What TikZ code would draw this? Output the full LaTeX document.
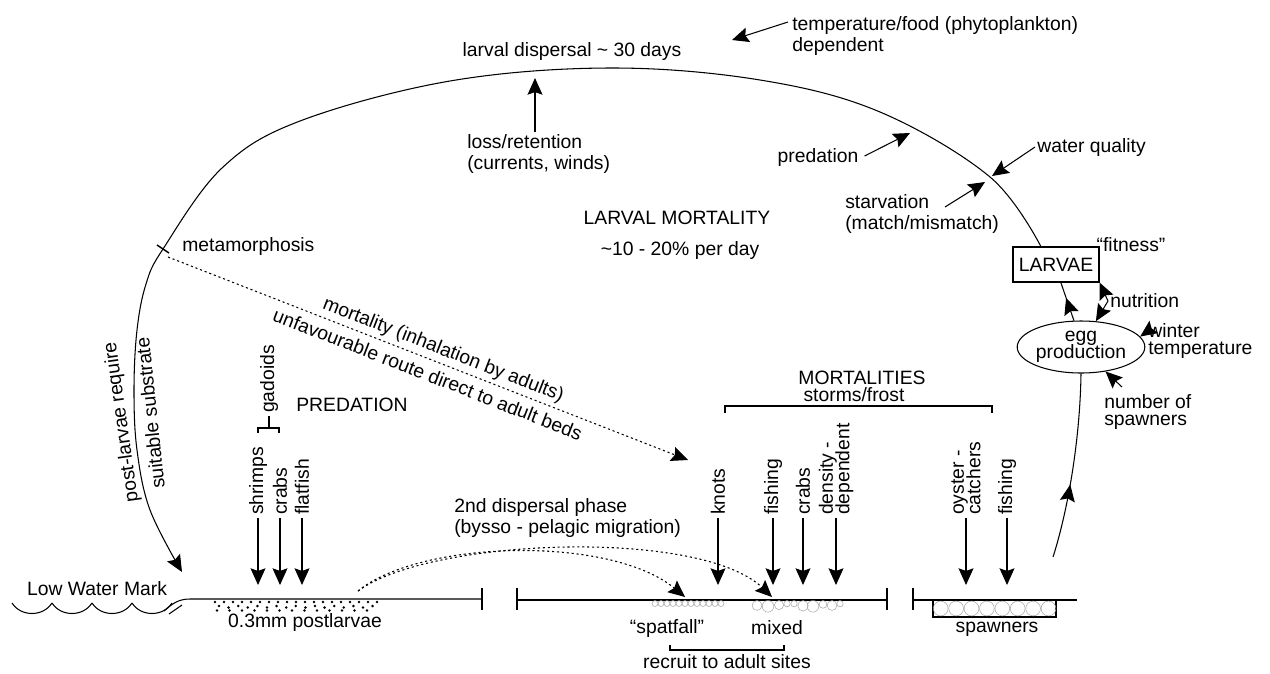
\documentclass[tikz,border=0pt]{standalone}
\usepackage{fontspec}
\setmainfont{Liberation Sans}
\usetikzlibrary{arrows.meta,shapes.geometric,decorations.markings}

\begin{document}
\lineskiplimit=-20pt
\begin{tikzpicture}[x=0.02cm,y=-0.02cm,line width=0.6pt,
    every node/.style={font=\fontsize{11}{12.5}\selectfont,inner sep=1pt},
    tight/.style={font=\fontsize{11}{9.4}\selectfont},
    arr/.style={-{Stealth[length=9.5pt,width=8.5pt,inset=1.5pt]}},
    midarr/.style={postaction={decorate},decoration={markings,mark=at position #1 with {\arrow{Stealth[length=9.5pt,width=8.5pt,inset=1.5pt]}}}},
    dotline/.style={dash pattern=on 1.2pt off 1.6pt},
    vlabel/.style={rotate=90,anchor=west,align=left,inner sep=1.5pt,tight},
    bar/.style={line width=1.3pt},
    shell/.style={draw=black!35,line width=0.3pt}]
\fill[white] (0,0) rectangle (1270,673);
\useasboundingbox (0,0) rectangle (1270,673);

% larval cycle
\node[draw,minimum width=1.72cm,minimum height=0.7cm,inner sep=0pt] (larvae) at (1056,264.5) {LARVAE};
\node (fitness) at (1131,245) {“fitness”};
\node[draw,ellipse,tight,align=center,minimum width=2.16cm,minimum height=1.04cm,inner sep=0pt] (egg) at (1081,347) {egg\\production};
\coordinate (meta) at (163,249);
\coordinate (land) at (182,572);
\draw[arr] plot[smooth,tension=0.6] coordinates {(larvae.130) (990,177) (880,112) (760,80) (610,68) (450,81) (300,121) (222,168) (meta) (146,284) (137,330) (134,390) (137,450) (150,510) (land)};
\draw[line width=0.8pt] (157,245) -- (169,253);
\draw[midarr=.6] (egg.105) -- (larvae.-75);
\coordinate (spawnup) at (1053,557);
\draw[midarr=.4] (spawnup) .. controls (1068,510) and (1080,440) .. (egg.south);

% factors on the larval phase
\node[anchor=west,align=left] (temp) at (790,36) {temperature/food (phytoplankton)\\dependent};
\coordinate (temptail) at (788,22);
\coordinate (temptip) at (732,40);
\draw[arr] (temptail) -- (temptip);
\node (disp) at (572,52) {larval dispersal \textasciitilde{} 30 days};
\node[anchor=west,align=left] (loss) at (465,154) {loss/retention\\(currents, winds)};
\coordinate (losstip) at (535,78);
\draw[arr] (loss.north -| losstip) -- (losstip);
\node (pred) at (818,157) {predation};
\coordinate (predtip) at (910,133);
\draw[arr] (pred.east) ++(4,-1) -- (predtip);
\node[anchor=west] (water) at (1035,147) {water quality};
\coordinate (watertip) at (992,176);
\draw[arr] (water.west) -- (watertip);
\node[anchor=west,align=left] (starv) at (843,214) {starvation\\(match/mismatch)};
\coordinate (starvtail) at (945,207);
\coordinate (starvtip) at (985,182);
\draw[arr] (starvtail) -- (starvtip);
\node (lmort) at (677,218) {LARVAL MORTALITY};
\node (perday) at (680,250) {\textasciitilde 10 - 20\% per day};
\node[anchor=west] (metatext) at (180,246) {metamorphosis};

% factors on egg production
\node[anchor=west] (nutr) at (1108,301) {nutrition};
\draw[arr] (nutr.west) -- (larvae.south east);
\draw[arr] (nutr.west) -- (egg.60);
\node[anchor=west,align=left,tight] (winter) at (1146,341) {winter\\temperature};
\coordinate (wintertail) at (1148,331);
\draw[arr] (wintertail) -- (egg.10);
\node[anchor=west,align=left,tight] (number) at (1102,412) {number of\\spawners};
\coordinate (numbertail) at (1122,387);
\draw[arr] (numbertail) -- (egg.-45);

% route to adult beds
\coordinate (metastart) at (168,257);
\coordinate (knotsin) at (688,460);
\draw[dotline,arr] (metastart) -- (knotsin)
  node[pos=.52,sloped,above=1pt] {mortality (inhalation by adults)}
  node[pos=.51,sloped,below=3pt] {unfavourable route direct to adult beds};

% shore line
\foreach \w in {12,52,92,132} \draw (\w,603) .. controls (\w+9,617) and (\w+31,617) .. (\w+40,603);
\draw (164,611) .. controls (172,604) and (178,599) .. (190,599) -- (482,599);
\draw (169,614) -- (182,605);
\draw[bar] (482,588) -- (482,610);
\draw[bar] (517,588) -- (517,610);
\draw (517,600) -- (887,600);
\draw[bar] (887,588) -- (887,610);
\draw[bar] (913,588) -- (913,610);
\draw (913,600) -- (1077,600);
\draw (933,600) rectangle (1056,617);
\node (lwm) at (97,589) {Low Water Mark};

% postlarvae, spat and spawners
\foreach \i in {0,...,18} \fill ({215+9*\i},602) circle (0.8pt);
\foreach \i in {0,...,16} \fill ({219+9.6*\i},{606+mod(\i,2)*1.5}) circle (0.8pt);
\foreach \i in {0,...,12} \fill ({217+12.5*\i},610.5) circle (0.8pt);
\foreach \x in {655,661,...,721} \draw[shell] (\x,603.5) circle (1.7pt);
\foreach \x/\r in {757/2.8,768/3.3,779/2.6,787/1.8,794/1.8,803/3,813/3.3,823/2.2,832/2.8,840/1.8}
    \draw[shell] (\x,{600.5+\r/0.567}) circle (\r pt);
\foreach \i in {0,...,7} \draw[shell] ({940.7+15.4*\i},608.5) circle (4.2pt);
\node (postl) at (305,622) {0.3mm postlarvae};
\node (spat) at (667,628) {“spatfall”};
\node (mixed) at (777,628) {mixed};
\draw (670,645) -- (670,650) -- (784,650) -- (784,645);
\node (recruit) at (727,662) {recruit to adult sites};
\node (spawn) at (997,629) {spawners};

% second dispersal
\coordinate (seedstart) at (358,591);
\coordinate (spattip) at (685,597);
\coordinate (mixedtip) at (772,597);
\node[anchor=west,align=left] (second) at (452,518) {2nd dispersal phase\\(bysso - pelagic migration)};
\draw[dotline,arr] (seedstart) .. controls (420,540) and (610,535) .. (spattip);
\draw[dotline,arr] (seedstart) .. controls (430,538) and (700,528) .. (mixedtip);

% predators
\node[rotate=98] (postreq) at (122,422) {post-larvae require};
\node[rotate=96] (suitable) at (150,413) {suitable substrate};
\node (predation) at (352,405) {PREDATION};
\draw (258,433) -- (258,428) -- (279,428) -- (279,433);
\node[vlabel] (gadoids) at (269,416) {gadoids};
\draw (269,428) -- (gadoids);
\node (mortalities) at (862,378) {MORTALITIES};
\node (storms) at (854,395) {storms/frost};
\draw (725,413) -- (725,406) -- (992,406) -- (992,413);
\foreach \n/\x/\lbl in {shrimps/258/shrimps,crabsA/280/crabs,flatfish/302/flatfish,knots/718/knots,fishingA/773/fishing,crabsB/803/crabs,density/836/{density -\\dependent},oyster/966/{oyster -\\catchers},fishingB/1007/fishing}
{
    \node[vlabel] (\n) at (\x,518) {\lbl};
    \coordinate (\n tip) at (\x,585);
    \draw[arr] (\n) -- (\n tip);
}
\end{tikzpicture}
\end{document}
